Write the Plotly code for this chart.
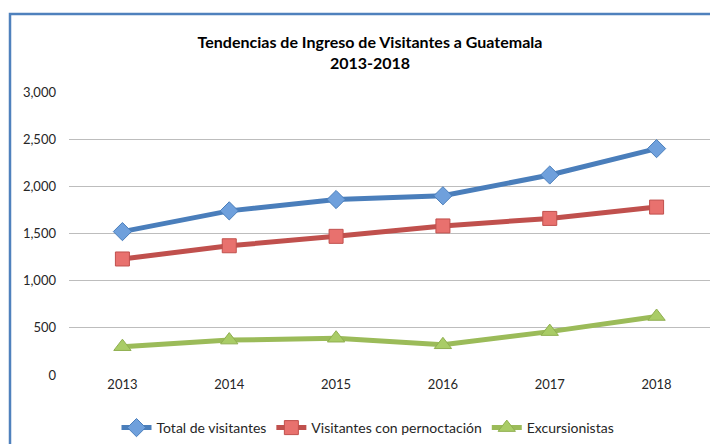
import plotly.graph_objects as go

years = ["2013", "2014", "2015", "2016", "2017", "2018"]
total_visitantes = [1520, 1740, 1860, 1900, 2120, 2400]
con_pernoctacion = [1230, 1370, 1470, 1580, 1660, 1780]
excursionistas = [300, 370, 390, 320, 460, 620]
y_ticks = [0, 500, 1000, 1500, 2000, 2500, 3000]
y_tick_labels = ["0", "500", "1,000", "1,500", "2,000", "2,500", "3,000"]

FONT = "Lato, 'Open Sans', 'Liberation Sans', sans-serif"

# figure is placed 8px inside the page (default body margin)
W, H = 710, 436
L, R, T, B = 61, 8, 84, 69
PW, PH = W - L - R, H - T - B

fig = go.Figure()
fig.add_trace(go.Scatter(
    x=years, y=total_visitantes, name="Total de visitantes", mode="lines+markers",
    line=dict(color="#4A7EBB", width=5),
    marker=dict(symbol="diamond", size=14, color="#6FA0DC", line=dict(color="#4A7EBB", width=1)),
))
fig.add_trace(go.Scatter(
    x=years, y=con_pernoctacion, name="Visitantes con pernoctación", mode="lines+markers",
    line=dict(color="#C0504D", width=5),
    marker=dict(symbol="square", size=14, color="#E8716E", line=dict(color="#C0504D", width=1)),
))
fig.add_trace(go.Scatter(
    x=years, y=excursionistas, name="Excursionistas", mode="lines+markers",
    line=dict(color="#9BBB59", width=5),
    marker=dict(symbol="triangle-up", size=15, color="#A9CC66", line=dict(color="#8FAF4F", width=1)),
))

fig.update_layout(
    width=W, height=H,
    margin=dict(l=L, r=R, t=T, b=B, autoexpand=False),
    paper_bgcolor="white", plot_bgcolor="white",
    font=dict(family=FONT, size=13, color="#404040"),
    title=dict(
        text="<b>Tendencias de Ingreso de Visitantes a Guatemala<br>2013-2018</b>",
        x=362 / W, xanchor="center", y=1 - 40 / H, yanchor="middle",
        font=dict(family=FONT, size=16, color="black"),
    ),
    showlegend=True,
    legend=dict(
        orientation="h", x=(360 - L) / PW, xanchor="center",
        y=(H - B - 420) / PH, yanchor="middle",
        font=dict(family=FONT, size=14, color="#262626"),
        itemwidth=30, tracegroupgap=0,
    ),
    xaxis=dict(
        type="category", range=[-0.5, 5.5], showgrid=False, showline=False,
        ticks="", tickfont=dict(size=13, color="#262626"), zeroline=False,
    ),
    yaxis=dict(
        range=[0, 3000], tickvals=y_ticks, ticktext=y_tick_labels,
        showgrid=True, gridcolor="#BDBDBD", gridwidth=1.3, zeroline=False,
        showline=False, ticks="", ticklabelstandoff=12,
        tickfont=dict(size=13, color="#262626"),
    ),
)

# chart frame (blue border of the chart area)
fig.add_shape(
    type="rect", xref="paper", yref="paper",
    x0=(2 - L) / PW, x1=(W + 20 - L) / PW,
    y0=-(B + 20) / PH, y1=1 + (T - 6) / PH,
    line=dict(color="#4F81BD", width=2.5), fillcolor="rgba(0,0,0,0)", layer="below",
)

fig.write_html("out.html")
